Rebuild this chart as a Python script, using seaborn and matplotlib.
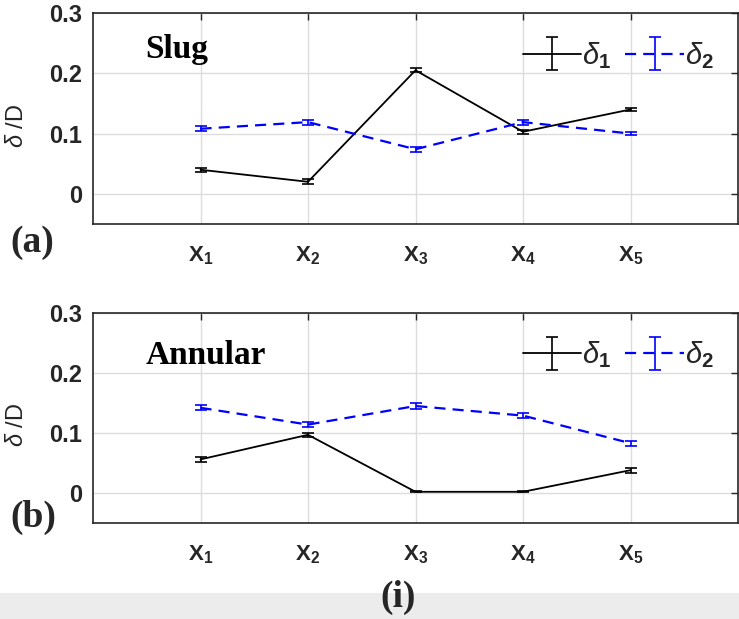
import numpy as np
import pandas as pd
import matplotlib
matplotlib.use("Agg")
import matplotlib.pyplot as plt
import seaborn as sns
from matplotlib.container import ErrorbarContainer
from matplotlib.legend_handler import HandlerErrorbar
from matplotlib.patches import Rectangle

# ---- data ----
positions = [1, 2, 3, 4, 5]
tick_labels = [r"$\mathbf{X_1}$", r"$\mathbf{X_2}$", r"$\mathbf{X_3}$",
               r"$\mathbf{X_4}$", r"$\mathbf{X_5}$"]
y_ticks = [0, 0.1, 0.2, 0.3]
y_tick_labels = ["0", "0.1", "0.2", "0.3"]

slug_d1 = [0.040, 0.020, 0.205, 0.103, 0.140]
slug_d1_err = [0.003, 0.004, 0.003, 0.003, 0.003]
slug_d2 = [0.108, 0.119, 0.074, 0.119, 0.100]
slug_d2_err = [0.004, 0.004, 0.004, 0.004, 0.003]

ann_d1 = [0.056, 0.097, 0.002, 0.002, 0.038]
ann_d1_err = [0.004, 0.003, 0.001, 0.001, 0.004]
ann_d2 = [0.142, 0.114, 0.145, 0.129, 0.083]
ann_d2_err = [0.004, 0.004, 0.005, 0.004, 0.004]

series_names = [r"$\delta_\mathbf{1}$", r"$\delta_\mathbf{2}$"]
panel_titles = ["Slug", "Annular"]
panel_tags = ["(a)", "(b)"]

# ---- style ----
sns.set_theme(style="whitegrid")
plt.rcParams["font.family"] = ["Liberation Sans", "DejaVu Sans"]
plt.rcParams["mathtext.fontset"] = "custom"
plt.rcParams["mathtext.rm"] = "Liberation Sans"
plt.rcParams["mathtext.it"] = "Liberation Sans:italic"
plt.rcParams["mathtext.bf"] = "Liberation Sans:bold"

fig = plt.figure(figsize=(7.39, 6.19), dpi=100)
W, H = 739, 619
ax_top = fig.add_axes([93 / W, 1 - 224 / H, 645 / W, 211 / H])
ax_bot = fig.add_axes([93 / W, 1 - 523 / H, 645 / W, 210 / H])

panels = [
    (ax_top, slug_d1, slug_d1_err, slug_d2, slug_d2_err),
    (ax_bot, ann_d1, ann_d1_err, ann_d2, ann_d2_err),
]

for i, (ax, d1, e1, d2, e2) in enumerate(panels):
    handles = []
    specs = [
        (d1, e1, "black", "", 1.3),
        (d2, e2, "#0000ff", (5.0, 3.2), 1.6),
    ]
    for (vals, errs, col, dash, lw), name in zip(specs, series_names):
        df = pd.DataFrame({"pos": positions, "val": vals, "series": name})
        sns.lineplot(data=df, x="pos", y="val", hue="series", style="series",
                     palette={name: col}, dashes={name: dash}, linewidth=lw,
                     legend=False, ax=ax)
        line = ax.lines[-1]
        eb = ax.errorbar(positions, vals, yerr=errs, fmt="none", ecolor=col,
                         elinewidth=1.2, capsize=4, capthick=1.2, zorder=3)
        cont = ErrorbarContainer((line, eb.lines[1], eb.lines[2]),
                                 has_xerr=False, has_yerr=True, label=name)
        handles.append(cont)

    ax.set_xlim(0, 6)
    ax.set_ylim(-0.05, 0.3)
    ax.set_xticks(positions)
    ax.set_xticklabels(tick_labels, fontsize=16, color="#262626")
    ax.set_yticks(y_ticks)
    ax.set_yticklabels(y_tick_labels, fontsize=17, fontweight="bold", color="#262626")
    ax.set_xlabel("")
    ax.set_ylabel(r"$\delta$ /D", fontsize=17, color="#262626")
    ax.yaxis.set_label_coords(-0.101, 0.465)
    ax.tick_params(direction="in", top=True, right=True, length=5, width=1,
                   color="#262626")
    ax.tick_params(axis="y", pad=8)
    ax.tick_params(axis="x", pad=15)
    ax.grid(True, color="#dcdcdc", linewidth=1.0)
    ax.set_facecolor("white")
    for sp in ax.spines.values():
        sp.set_visible(True)
        sp.set_color("#262626")
        sp.set_linewidth(1.2)

    ax.text(0.081, 0.825 if i == 0 else 0.80, panel_titles[i], transform=ax.transAxes,
            fontsize=24, fontweight="bold", family="Liberation Serif",
            va="center", ha="left", color="black")

    ax.legend(handles=handles, labels=series_names, ncol=2, frameon=False,
              loc="center right", bbox_to_anchor=(0.998, 0.80), fontsize=21,
              handlelength=2.0, columnspacing=0.5, handletextpad=0.03,
              borderpad=0.3,
              handler_map={ErrorbarContainer: HandlerErrorbar(yerr_size=0.57)})

fig.text(10 / W, 1 - 243 / H, panel_tags[0], fontsize=27, fontweight="bold",
         family="Liberation Serif", va="center", ha="left")
fig.text(10 / W, 1 - 517 / H, panel_tags[1], fontsize=27, fontweight="bold",
         family="Liberation Serif", va="center", ha="left")
fig.text(380 / W, 1 - 597 / H, "(i)", fontsize=27, fontweight="bold",
         family="Liberation Serif", va="center", ha="left")

fig.patches.append(Rectangle((0, 0), 1, 26 / H, transform=fig.transFigure,
                             facecolor="#ececec", edgecolor="none", zorder=-1))

fig.savefig("out.png", dpi=100)
